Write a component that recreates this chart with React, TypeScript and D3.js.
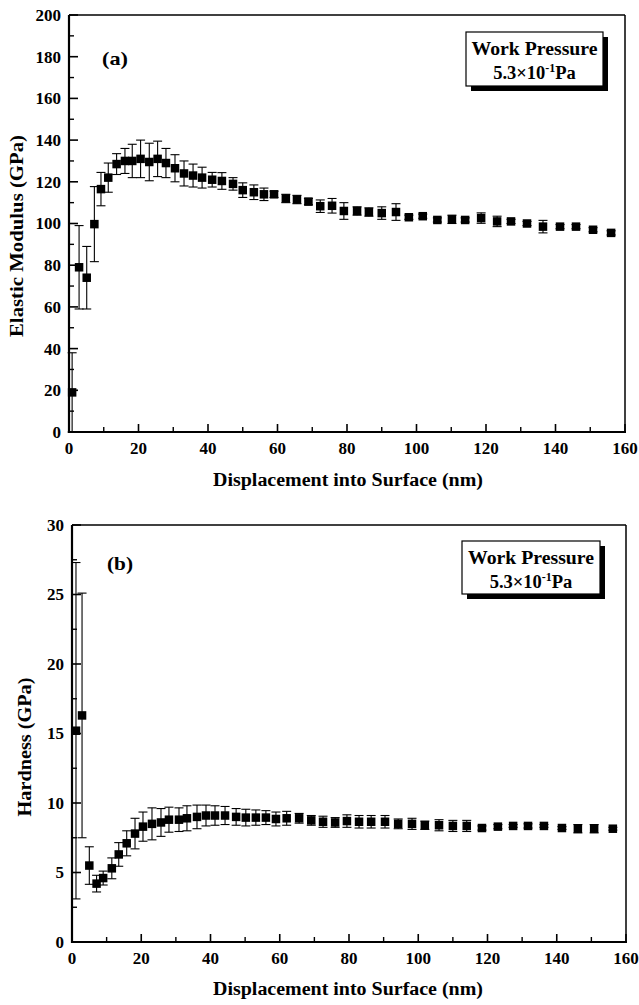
import React from 'react';
import * as d3 from 'd3';

// displacement (nm), value, +/- error
const modX = [0.9, 2.9, 5.1, 7.3, 9.2, 11.3, 13.7, 16.1, 18.2, 20.6, 23.1, 25.5, 27.9, 30.5, 33.1, 35.7, 38.3, 41.2, 44, 47.2, 50, 53.2, 56.1, 59, 62.4, 65.6, 68.9, 72.3, 75.7, 79.1, 82.9, 86.3, 90, 94.1, 97.8, 101.8, 106, 110.2, 114, 118.6, 123.2, 127.2, 131.8, 136.4, 141.3, 145.9, 150.8, 156];
const modY = [19, 79, 74, 99.7, 116.5, 122, 128.5, 130, 130, 131, 129.5, 131, 129, 126.5, 124, 123, 122, 121, 120.4, 119, 116, 115, 114, 114, 112, 111.5, 110.5, 108.3, 108.5, 106, 106, 105.5, 105, 105.5, 103, 103.5, 101.7, 102, 101.7, 102.6, 101, 101, 100, 98.5, 98.5, 98.5, 97, 95.5];
const modErr = [19, 20, 15, 18, 8, 7, 5, 6, 8, 9, 9, 8.5, 7, 6.5, 6, 5.5, 5, 3.5, 4, 3, 3.5, 3.5, 3, 1.5, 2, 2, 1.5, 3, 3.5, 4, 2, 2, 3, 4, 1, 1, 1, 2, 1, 2.5, 2.5, 1, 1, 3, 1, 1, 1, 1];

const hardX = [1.15, 2.9, 5, 7.1, 9, 11.5, 13.5, 15.8, 18.2, 20.5, 23.1, 25.7, 28, 30.9, 33.2, 36.1, 38.7, 41.3, 44.2, 47.4, 50.2, 53.1, 56, 58.9, 62, 65.6, 69.1, 72.5, 76, 79.4, 82.9, 86.4, 90.4, 94.2, 98.2, 101.9, 106, 110, 114, 118.4, 123, 127.4, 131.7, 136.3, 141.5, 146.1, 150.8, 156.2];
const hardY = [15.2, 16.3, 5.5, 4.2, 4.6, 5.3, 6.3, 7.1, 7.8, 8.3, 8.5, 8.6, 8.8, 8.8, 8.9, 9.0, 9.1, 9.1, 9.1, 9.0, 8.95, 8.95, 8.95, 8.85, 8.9, 8.9, 8.75, 8.65, 8.6, 8.7, 8.65, 8.65, 8.65, 8.5, 8.5, 8.4, 8.4, 8.35, 8.35, 8.2, 8.3, 8.35, 8.35, 8.35, 8.2, 8.15, 8.15, 8.15];
const hardErr = [12.1, 8.8, 1.35, 0.6, 0.5, 0.75, 0.85, 0.9, 1.1, 1.05, 1.15, 1.0, 0.9, 0.85, 0.9, 0.85, 0.75, 0.7, 0.65, 0.6, 0.6, 0.55, 0.5, 0.5, 0.5, 0.35, 0.35, 0.4, 0.35, 0.45, 0.45, 0.45, 0.45, 0.35, 0.4, 0.3, 0.4, 0.4, 0.4, 0.15, 0.15, 0.1, 0.15, 0.1, 0.1, 0.3, 0.3, 0.1];

const xTitle = 'Displacement into Surface (nm)';
const legendLine1 = 'Work Pressure';

const FONT = '"Liberation Serif", "Times New Roman", serif';

function Panel({ box, yMax, yStep, yTitle, tag, xs, ys, errs, legend, titles }) {
  const x = d3.scaleLinear().domain([0, 160]).range([box.left, box.right]);
  const y = d3.scaleLinear().domain([0, yMax]).range([box.bottom, box.top]);
  const xMajor = d3.range(0, 161, 20);
  const xMinor = d3.range(10, 160, 20);
  const yMajor = d3.range(0, yMax + 0.001, yStep);
  const yMinor = d3.range(yStep / 2, yMax, yStep);
  const cap = 4.5;
  const m = 8.5;

  return (
    <g>
      {/* ticks */}
      {xMajor.map((t) => (
        <line key={'xm' + t} x1={x(t)} x2={x(t)} y1={box.bottom} y2={box.bottom - 8} stroke="#000" strokeWidth={1.6} />
      ))}
      {xMinor.map((t) => (
        <line key={'xn' + t} x1={x(t)} x2={x(t)} y1={box.bottom} y2={box.bottom - 5} stroke="#000" strokeWidth={1.4} />
      ))}
      {yMajor.map((t) => (
        <line key={'ym' + t} x1={box.left} x2={box.left + 9} y1={y(t)} y2={y(t)} stroke="#000" strokeWidth={1.6} />
      ))}
      {yMinor.map((t) => (
        <line key={'yn' + t} x1={box.left} x2={box.left + 5} y1={y(t)} y2={y(t)} stroke="#000" strokeWidth={1.4} />
      ))}

      {/* frame */}
      <line x1={box.left} x2={box.right} y1={box.top} y2={box.top} stroke="#000" strokeWidth={1.5} />
      <line x1={box.right} x2={box.right} y1={box.top} y2={box.bottom} stroke="#000" strokeWidth={1.5} />
      <line x1={box.left} x2={box.left} y1={box.top} y2={box.bottom + 1} stroke="#000" strokeWidth={2.2} />
      <line x1={box.left - 1} x2={box.right + 1} y1={box.bottom} y2={box.bottom} stroke="#000" strokeWidth={2.2} />

      {/* tick labels */}
      <g fontFamily={FONT} fontWeight="bold" fontSize={17} fill="#000">
        {xMajor.map((t) => (
          <text key={'xl' + t} x={x(t)} y={box.bottom + 22} textAnchor="middle">{t}</text>
        ))}
        {yMajor.map((t) => (
          <text key={'yl' + t} x={box.left - 8} y={y(t)} dy="0.35em" textAnchor="end">{t}</text>
        ))}
      </g>

      {/* titles */}
      <g fontFamily={FONT} fontWeight="bold" fontSize={18.5} fill="#000">
        <text x={348} y={titles.xBase} textAnchor="middle" textLength={270} lengthAdjust="spacingAndGlyphs">{xTitle}</text>
        <text transform={`translate(${titles.yBase},${titles.yMid}) rotate(-90)`} textAnchor="middle" textLength={titles.yLen} lengthAdjust="spacingAndGlyphs">{yTitle}</text>
        <text x={tag.x} y={tag.y} fontSize={19} textLength={26} lengthAdjust="spacingAndGlyphs">{tag.text}</text>
      </g>

      {/* error bars */}
      {xs.map((v, i) => {
        const cx = x(v);
        const hi = y(ys[i] + errs[i]);
        const lo = y(Math.max(0, ys[i] - errs[i]));
        return (
          <g key={'e' + i} stroke="#000" strokeWidth={1.1}>
            <line x1={cx} x2={cx} y1={hi} y2={lo} />
            <line x1={cx - cap} x2={cx + cap} y1={hi} y2={hi} />
            <line x1={cx - cap} x2={cx + cap} y1={lo} y2={lo} />
          </g>
        );
      })}

      {/* markers */}
      {xs.map((v, i) => (
        <rect key={'p' + i} x={x(v) - m / 2} y={y(ys[i]) - m / 2} width={m} height={m} fill="#000" />
      ))}

      {/* legend box with shadow */}
      <rect x={legend.x + 5} y={legend.y + 5} width={legend.w} height={legend.h} fill="#000" />
      <rect x={legend.x} y={legend.y} width={legend.w} height={legend.h} fill="#fff" stroke="#000" strokeWidth={1.2} />
      <g fontFamily={FONT} fontWeight="bold" fontSize={18.5} fill="#000" textAnchor="middle">
        <text x={legend.x + legend.w / 2} y={legend.y + 23} textLength={126} lengthAdjust="spacingAndGlyphs">{legendLine1}</text>
        <text x={legend.x + legend.w / 2} y={legend.y + 47}>
          5.3×10<tspan fontSize={12} dy={-7}>-1</tspan><tspan dy={7}>Pa</tspan>
        </text>
      </g>
    </g>
  );
}

export default function App() {
  return (
    <svg
      width={639}
      height={1005}
      style={{ position: 'absolute', left: 0, top: 0, background: '#fff' }}
    >
      <rect width={639} height={1005} fill="#fff" />
      <Panel
        box={{ left: 69, right: 625, top: 15, bottom: 432 }}
        yMax={200}
        yStep={20}
        yTitle="Elastic Modulus (GPa)"
        tag={{ x: 102, y: 65, text: '(a)' }}
        xs={modX}
        ys={modY}
        errs={modErr}
        legend={{ x: 466, y: 32, w: 137, h: 54 }}
        titles={{ xBase: 486, yBase: 23, yMid: 236, yLen: 202 }}
      />
      <Panel
        box={{ left: 72, right: 626, top: 525, bottom: 942 }}
        yMax={30}
        yStep={5}
        yTitle="Hardness (GPa)"
        tag={{ x: 107, y: 570, text: '(b)' }}
        xs={hardX}
        ys={hardY}
        errs={hardErr}
        legend={{ x: 462, y: 541, w: 138, h: 53 }}
        titles={{ xBase: 995, yBase: 31, yMid: 747, yLen: 139 }}
      />
    </svg>
  );
}
